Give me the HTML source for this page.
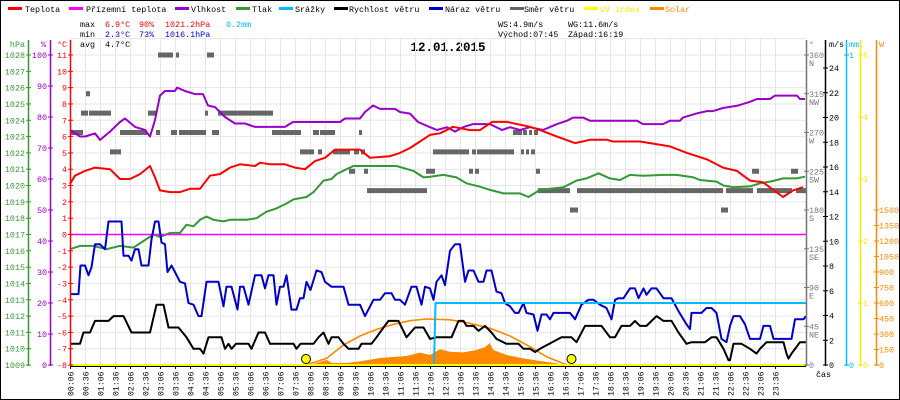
<!DOCTYPE html>
<html><head><meta charset="utf-8"><style>
html,body{margin:0;padding:0;background:#fff;}
svg{display:block;font-family:"Liberation Mono",monospace;}
</style></head><body>
<svg id="chart" width="900" height="400" viewBox="0 0 900 400" xmlns="http://www.w3.org/2000/svg">
<rect x="0.5" y="0.5" width="899" height="399" fill="#fff" stroke="#000"/>
<g id="legend" font-size="8.4">
 <g><rect x="8" y="7" width="14" height="3" fill="#f00"/><text x="25" y="12">Teplota</text></g>
 <g><rect x="69" y="7" width="14" height="3" fill="#f0f"/><text x="86" y="12">Přízemní teplota</text></g>
 <g><rect x="175" y="7" width="14" height="3" fill="#90c"/><text x="191" y="12">Vlhkost</text></g>
 <g><rect x="236" y="7" width="14" height="3" fill="#393"/><text x="252" y="12">Tlak</text></g>
 <g><rect x="279" y="7" width="14" height="3" fill="#0bf"/><text x="295" y="12">Srážky</text></g>
 <g><rect x="334" y="7" width="14" height="3" fill="#000"/><text x="349" y="12">Rychlost větru</text></g>
 <g><rect x="429" y="7" width="14" height="3" fill="#00c"/><text x="445" y="12">Náraz větru</text></g>
 <g><rect x="510" y="7" width="14" height="3" fill="#666"/><text x="524" y="12">Směr větru</text></g>
 <g><rect x="584" y="7" width="14" height="3" fill="#ff0"/><text x="600" y="12" fill="#ee0">UV index</text></g>
 <g><rect x="650" y="7" width="14" height="3" fill="#f80"/><text x="665" y="12" fill="#f80">Solar</text></g>
</g>
<g id="stats" font-size="8.4">
 <text x="80" y="27">max</text><text x="105" y="27" fill="#f00">6.9°C</text><text x="139" y="27" fill="#f00">90%</text><text x="165" y="27" fill="#f00">1021.2hPa</text><text x="226" y="27" fill="#0bf">0.2mm</text>
 <text x="80" y="37">min</text><text x="105" y="37" fill="#00c">2.3°C</text><text x="139" y="37" fill="#00c">73%</text><text x="165" y="37" fill="#00c">1016.1hPa</text>
 <text x="80" y="47">avg</text><text x="105" y="47">4.7°C</text>
 <text x="498" y="27">WS:4.9m/s</text><text x="568" y="27">WG:11.6m/s</text>
 <text x="498" y="37">Východ:07:45</text><text x="568" y="37">Západ:16:19</text>
</g>
<text x="448" y="51" text-anchor="middle" font-size="12.5" font-weight="bold">12.01.2015</text>
<g id="grid"></g>
<g id="series"></g>
<g id="axes"></g>
</svg>
<script>
const tempTimes=[6,16,36,56,86,106,126,146,166,176,186,206,226,246,266,286,306,326,346,376,386,406,436,456,476,496,516,536,566,586,606,646,666,686,706,726,746,772,806,826,850,880,926,946,980,1016,1046,1080,1092,1146,1166,1206,1240,1280,1312,1340,1366,1392,1432,1452,1472];
const tempVals=[3.1,3.6,3.9,4.1,4.0,3.4,3.4,3.7,4.2,3.5,2.7,2.6,2.6,2.8,2.8,3.6,3.7,4.1,4.3,4.2,4.4,4.3,4.3,4.1,4.0,4.5,4.7,5.2,5.2,5.2,4.7,4.8,5.0,5.3,5.7,6.1,6.2,6.6,6.4,6.4,6.9,6.9,6.6,6.4,6.0,5.6,5.8,5.8,5.7,5.7,5.6,5.4,5.0,4.6,4.1,3.9,3.3,3.2,2.3,2.7,2.9];
const apparentTimes=[6,1478];
const apparentVals=[0,0];
const humTimes=[6,26,36,56,66,86,106,116,136,156,166,176,186,196,216,220,236,256,272,282,296,316,336,356,376,396,416,436,452,486,546,556,586,596,612,626,656,666,686,702,726,740,760,776,792,812,846,870,886,906,926,952,980,1000,1012,1032,1046,1072,1086,1140,1152,1192,1206,1226,1232,1260,1280,1292,1312,1340,1366,1380,1406,1416,1460,1466,1476];
const humVals=[75.8,73.7,73.7,74.7,72.6,75.3,78.4,79.5,76.8,75.8,73.7,79,86.9,88.4,88.4,89.5,88.4,87.4,87.4,83.7,83.2,80,77.9,77.9,76.8,76.8,76.8,76.8,78.4,78.4,78.4,79.5,79.5,81.6,83.7,82.6,82.6,81.6,81.1,78.4,76.7,75.8,76.7,75.3,76.7,77.7,77.7,75.8,76.7,75.8,76.7,75.8,77.7,78.8,79.8,79.8,78.8,78.8,78.8,78.8,77.7,77.7,78.8,78.8,79.8,81.2,81.9,81.9,82.9,83.6,84.9,85.8,85.8,86.9,86.9,85.8,85.8];
const presTimes=[6,26,53,79,106,133,153,173,186,206,226,239,253,266,279,293,313,326,359,379,399,419,439,453,479,493,513,529,539,559,573,646,659,693,713,726,753,779,799,826,846,873,906,923,946,993,1019,1039,1063,1086,1106,1126,1153,1193,1219,1253,1266,1299,1313,1333,1366,1386,1406,1433,1459,1476];
const presVals=[1016.1,1016.3,1016.3,1016.1,1016.3,1016.2,1016.6,1017.0,1016.85,1017.1,1017.1,1017.6,1017.5,1017.9,1018.1,1017.9,1017.8,1017.9,1017.9,1018.0,1018.4,1018.6,1018.9,1019.15,1019.3,1019.6,1020.3,1020.4,1020.7,1021.0,1021.2,1021.2,1021.2,1020.9,1020.5,1020.54,1020.65,1020.5,1020.14,1019.93,1019.73,1019.52,1019.52,1019.3,1019.73,1019.9,1020.3,1020.44,1020.75,1020.44,1020.34,1020.65,1020.6,1020.65,1020.65,1020.5,1020.34,1020.24,1020.0,1019.9,1019.95,1020.14,1020.24,1020.44,1020.44,1020.54];
const gustTimes=[6,23,27,36,43,49,56,66,76,83,109,113,123,129,136,143,149,163,169,176,183,189,196,201,209,216,226,236,243,253,263,269,279,303,313,319,329,341,346,353,363,376,389,396,403,413,419,426,433,439,449,459,466,473,479,487,499,509,516,529,553,563,586,596,613,626,636,649,656,666,676,689,699,709,716,
726,733,739,749,756,766,776,786,796,803,813,823,833,839,849,859,869,876,886,896,903,913,919,933,941,949,959,966,973,1006,1016,1029,1043,1053,1066,1079,1089,1096,1103,1113,1126,1136,1143,1153,1159,1169,1179,1193,1209,1223,1239,1246,1249,1269,1279,1289,1299,1309,1319,1326,1333,1346,1356,1366,1386,1393,1406,1413,1449,1456,1473,1478];
const gustVals=[5.73,5.73,8.04,8.04,7.25,7.9,9.75,9.75,9.36,11.6,11.6,8.83,8.83,8.44,9.36,9.36,8.04,8.04,10.15,11.6,11.6,9.9,9.75,7.51,8.04,7.51,6.72,6.59,5.0,4.87,3.95,3.95,6.72,6.72,4.74,6.33,6.33,4.48,6.33,6.33,4.87,7.25,7.25,6.19,7.25,7.25,4.87,6.33,6.33,7.25,4.48,4.48,5.4,5.4,6.72,6.06,7.64,7.51,6.72,6.33,6.33,4.87,4.87,3.95,5.27,5.27,5.8,5.8,5.27,5.27,4.87,6.33,6.33,4.87,6.33,
6.19,5.27,6.72,7.25,6.46,9.23,9.75,9.75,6.72,7.64,7.64,6.72,6.72,7.64,7.64,5.93,5.8,5.0,4.74,4.21,4.21,5.0,4.21,4.08,2.76,4.08,4.08,3.69,4.21,4.21,3.69,4.87,5.27,5.27,4.87,4.61,3.69,5.27,5.4,5.4,6.19,6.19,5.4,6.19,5.67,6.19,6.19,5.4,5.4,4.35,3.29,2.9,4.21,4.21,4.61,4.61,4.21,2.11,1.84,3.16,3.95,3.95,3.29,2.11,2.11,3.16,3.16,2.11,2.11,3.69,3.69,3.95];
const speedTimes=[6,26,33,46,56,83,93,113,129,166,179,193,203,223,239,253,266,273,283,309,316,323,329,338,363,369,383,396,406,453,459,467,493,503,513,523,529,543,553,563,583,589,609,619,633,643,663,679,696,713,
726,739,769,783,793,799,813,823,836,849,859,879,903,913,926,936,946,989,1009,1019,1036,1069,1086,1096,1109,1126,1136,1146,1159,1179,1193,1209,1223,1239,1249,1276,1289,1299,1313,1323,1326,1333,1349,1366,1379,1386,1399,1433,1439,1443,1449,1466,1478];
const speedVals=[1.71,1.71,2.63,2.63,3.56,3.56,3.95,3.95,2.63,2.63,4.87,4.87,3.03,3.03,2.24,1.31,1.31,0.92,2.24,2.24,1.31,1.71,1.31,1.71,1.71,1.31,2.63,2.63,1.71,1.71,1.31,1.71,1.71,2.24,2.63,1.71,2.24,2.24,1.71,1.31,1.31,1.71,1.71,2.24,3.03,3.56,3.56,2.24,3.03,3.03,
2.11,2.24,2.24,3.56,3.56,3.16,3.16,2.76,3.16,2.63,2.11,1.71,1.71,1.31,1.31,1.05,1.31,2.24,2.24,1.84,3.16,3.16,2.24,2.24,3.16,3.16,3.56,3.16,3.16,3.95,3.56,3.56,2.63,1.71,1.84,1.84,2.24,2.24,1.31,0.39,0.39,1.71,1.71,1.31,0.92,1.31,1.84,1.84,0.92,0.52,0.92,1.84,1.84];
const rainTimes=[6,734,737,1478];
const rainVals=[0,0,0.2,0.2];
const solarTimes=[486,519,530,560,586,626,679,706,726,746,766,793,819,836,845,853,879,913,946,979,993];
const solarVals=[0,48,20,20,35,68,87,120,97,152,129,122,145,171,210,145,97,64,39,16,0];
const solarMaxTimes=[478,519,553,586,619,653,686,719,766,806,846,886,926,959,1000];
const solarMaxVals=[0,64,194,281,345,394,429,445,437,404,355,281,177,80,0];
const sunEventTimes=[478,1009];
const dirFrom=[182,218,280,38,28,44,162,276,302,6,106,178,208,224,290,410,492,506,584,892,912,924,934,86,466,502,532,574,588,732,810,820,908,918,928,564,594,718,804,816,938,1370,1448,600,942,1020,1318,1380,1458,1006,1308];
const dirTo=[212,224,294,46,42,88,180,282,412,32,160,186,220,278,304,468,504,536,590,910,920,930,942,108,494,510,566,584,596,804,818,894,914,924,936,576,602,736,812,824,946,1384,1462,720,1006,1312,1372,1450,1478,1022,1322];
const dirDeg=[360,360,360,315,292.5,292.5,292.5,292.5,292.5,270,270,270,270,270,270,270,270,270,270,270,270,270,270,247.5,247.5,247.5,247.5,247.5,247.5,247.5,247.5,247.5,247.5,247.5,247.5,225,225,225,225,225,225,225,225,202.5,202.5,202.5,202.5,202.5,202.5,180,180];
const timeTicks=[];
for(let h=0;h<24;h++){for(const m of ['06','36']){timeTicks.push((h<10?'0':'')+h+':'+m);}}
const hpaTicks=[1009,1010,1011,1012,1013,1014,1015,1016,1017,1018,1019,1020,1021,1022,1023,1024,1025,1026,1027,1028];
const humTicks=[0,10,20,30,40,50,60,70,80,90,100];
const tempTicks=[-8,-7,-6,-5,-4,-3,-2,-1,0,1,2,3,4,5,6,7,8,9,10,11];
const dirTicks=[0,45,90,135,180,225,270,315,360];
const dirNames=['','NE','E','SE','S','SW','W','NW','N'];
const msTicks=[0,2,4,6,8,10,12,14,16,18,20,22,24];
const mmTicks=[0,1];
const uvTicks=[0,1,2,3,4,5];
const wTicks=[0,150,300,450,600,750,900,1050,1200,1350,1500];

const NS='http://www.w3.org/2000/svg';
const X=t=>70+(t-6)*0.5;
const yT=v=>234.5-v*16.32;
const yP=v=>yT(v-1017);
const yH=v=>365-v*3.1;
const yM=v=>365-v*12.375;
const yD=v=>365-v*0.8611;
const yR=v=>365-v*310;
const yU=v=>365-v*62;
const yS=v=>365-v*0.10333;
function el(tag,attrs,parent){const e=document.createElementNS(NS,tag);for(const k in attrs)e.setAttribute(k,attrs[k]);parent.appendChild(e);return e;}
const grid=document.getElementById('grid'),series=document.getElementById('series'),axes=document.getElementById('axes');
// grid
for(let v=-8;v<=12;v++){const l=el('line',{x1:70,x2:806,y1:yT(v),y2:yT(v),stroke:'#e6e6e6','stroke-width':1},grid);

}
timeTicks.forEach((lab,i)=>{const t=6+i*30;const x=X(t)+0.5;
 const l=el('line',{x1:x,x2:x,y1:38,y2:365,stroke:'#e6e6e6','stroke-width':1},grid);
 
 
 const tk=el('line',{x1:x,x2:x,y1:365,y2:369,stroke:'#000'},axes);
 
 
 const tx=el('text',{x:0,y:0,'font-size':8.2,transform:`translate(${x+3},396) rotate(-90)`},axes);
 tx.textContent=lab;
 
 
});
// direction blocks
dirDeg.forEach((d,i)=>{const r=el('rect',{x:X(dirFrom[i]),y:yD(d)-2.5,width:Math.max(3,X(dirTo[i])-X(dirFrom[i])),height:5,fill:'#666'},series);
 
 });
function pts(ts,vs,f){return ts.map((t,i)=>X(t).toFixed(1)+','+f(vs[i]).toFixed(1)).join(' ');}
// solar fill
const sp=el('polygon',{points:X(solarTimes[0])+',365 '+pts(solarTimes,solarVals,yS)+' '+X(solarTimes[solarTimes.length-1])+',365',fill:'#f80'},series);


function line(ts,vs,f,color,name,w){const p=el('polyline',{points:pts(ts,vs,f),fill:'none',stroke:color,'stroke-width':w||2,'stroke-linejoin':'round'},series);
 
 return p;}
line(solarMaxTimes,solarMaxVals,yS,'#f80','solar-theoretical-line',1.6);
line(presTimes,presVals,yP,'#393','pressure-line');
line(humTimes,humVals,yH,'#90c','humidity-line');
line(tempTimes,tempVals,yT,'#f00','temperature-line');
line(apparentTimes,apparentVals,yT,'#f0f','apparent-temperature-line',1.5);
line(gustTimes,gustVals,yM,'#00c','wind-gust-line');
line(speedTimes,speedVals,yM,'#000','wind-speed-line');
line(rainTimes,rainVals,yR,'#0bf','rain-line');
// bottom axis
const ba=el('line',{x1:70,x2:806,y1:366.5,y2:366.5,stroke:'#000','stroke-width':1},axes);


const uv=el('line',{x1:70,x2:806,y1:365,y2:365,stroke:'#ff0','stroke-width':2},axes);


sunEventTimes.forEach(t=>{const c=el('circle',{cx:X(t),cy:359,r:4.5,fill:'#ff0',stroke:'#000','stroke-width':1},axes);
 
 });
// vertical axes
function vaxis(x,color,ticks,f,labX,anchor,name,unit,unitX,extra){
 const a=el('line',{x1:x+0.5,x2:x+0.5,y1:40,y2:366,stroke:color,'stroke-width':1.5},axes);
 
 
 ticks.forEach((v,i)=>{const y=f(v);
  const tk=el('line',{x1:x-2,x2:x+3,y1:y,y2:y,stroke:color},axes);
  
  
  const tx=el('text',{x:labX,y:y+3,fill:color,'font-size':8.4,'text-anchor':anchor},axes);
  tx.textContent=v;
  
  
  if(extra&&extra[i]){const t2=el('text',{x:labX,y:y+11,fill:color,'font-size':8.4},axes);
   t2.textContent=extra[i];
   
   }
 });
 const u=el('text',{x:unitX,y:47,fill:color,'font-size':8.4,'text-anchor':anchor},axes);
 u.textContent=unit;
 
 
}
vaxis(28,'#393',hpaTicks,yP,25,'end','pressure','hPa',25);
vaxis(50,'#90c',humTicks,yH,47,'end','humidity','%',46);
vaxis(70,'#f00',tempTicks,yT,67,'end','temperature','°C',67);
vaxis(806,'#777',dirTicks,yD,809,'start','direction','°',809,dirNames);
vaxis(825,'#000',msTicks,yM,829,'start','wind-speed','m/s',829);
vaxis(846,'#0bf',mmTicks,yR,849,'start','rain','mm',849);
vaxis(860,'#ee0',uvTicks,yU,863,'start','uv','',863);
vaxis(876,'#f80',wTicks,yS,879,'start','solar','W',879);
const cas=el('text',{x:816,y:377,'font-size':8.4},axes);
cas.textContent='čas';


</script>
</body></html>
